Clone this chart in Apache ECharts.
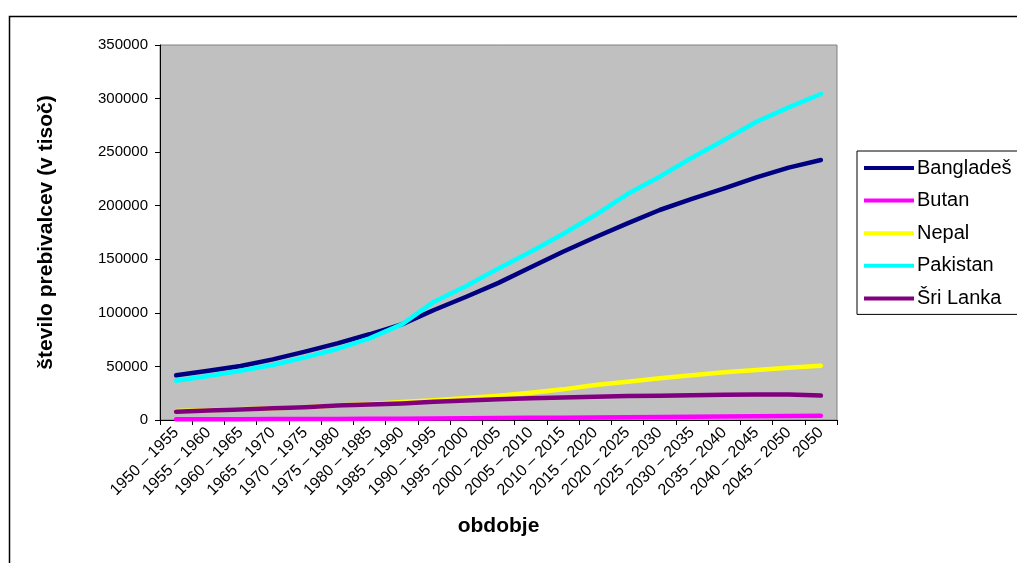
<!DOCTYPE html>
<html>
<head>
<meta charset="utf-8">
<script src="https://cdn.jsdelivr.net/npm/echarts@6/dist/echarts.min.js"></script>
<style>
  html, body { margin: 0; padding: 0; background: #fff; }
  #chart { width: 1017px; height: 563px; }
</style>
</head>
<body>
<div id="chart"></div>
<script>
// Periods on the category axis
const periods = [
  '1950 – 1955', '1955 – 1960', '1960 – 1965', '1965 – 1970', '1970 – 1975',
  '1975 – 1980', '1980 – 1985', '1985 – 1990', '1990 – 1995', '1995 – 2000',
  '2000 – 2005', '2005 – 2010', '2010 – 2015', '2015 – 2020', '2020 – 2025',
  '2025 – 2030', '2030 – 2035', '2035 – 2040', '2040 – 2045', '2045 – 2050',
  '2050'
];

// Population in thousands
const bangladesh = [41700, 46000, 50400, 56600, 63800, 71500, 80000, 89300, 102700, 115000,
  128000, 142500, 157000, 170500, 183500, 196000, 206300, 216200, 226500, 235500, 242700];
const butan = [700, 750, 800, 850, 900, 1000, 1100, 1200, 1400, 1600,
  1800, 2000, 2200, 2400, 2600, 2800, 3000, 3200, 3400, 3700, 3900];
const nepal = [8500, 9000, 10000, 11000, 12000, 13500, 15000, 16700, 18500, 20500,
  22700, 25500, 28600, 32700, 35800, 38900, 41700, 44500, 46700, 48800, 50700];
const pakistan = [36700, 41000, 46000, 51300, 58500, 66300, 76200, 89300, 110400, 125000,
  141500, 157100, 173600, 191300, 210900, 227100, 244800, 261300, 278400, 291800, 304300];
const sriLanka = [7800, 8800, 9800, 11000, 12000, 13500, 14500, 15500, 17000, 18200,
  19300, 20300, 21000, 21800, 22500, 22700, 23000, 23500, 23800, 23800, 22800];

// Y axis ticks
const yMin = 0, yMax = 350000, yStep = 50000;

const seriesDefs = [
  { name: 'Bangladeš', data: bangladesh, color: '#000080' },
  { name: 'Butan', data: butan, color: '#FF00FF' },
  { name: 'Nepal', data: nepal, color: '#FFFF00' },
  { name: 'Pakistan', data: pakistan, color: '#00FFFF' },
  { name: 'Šri Lanka', data: sriLanka, color: '#800080' }
];

const font = 'Liberation Sans, Arial, sans-serif';
const chart = echarts.init(document.getElementById('chart'), null, { renderer: 'canvas' });

chart.setOption({
  animation: false,
  backgroundColor: '#ffffff',
  textStyle: { fontFamily: font, color: '#000' },
  grid: {
    left: 160, right: 180, top: 45, bottom: 143,
    show: true, backgroundColor: '#C0C0C0', borderColor: '#808080', borderWidth: 1
  },
  legend: {
    orient: 'vertical',
    left: 857, top: 151,
    padding: [7, 60, 6, 7],
    itemGap: 12.6,
    itemWidth: 50, itemHeight: 4,
    icon: 'rect',
    borderColor: '#000', borderWidth: 1,
    backgroundColor: '#fff',
    textStyle: { fontFamily: font, fontSize: 20, color: '#000', lineHeight: 20, padding: [0, 0, 0, -2] },
    data: seriesDefs.map(s => s.name)
  },
  xAxis: {
    type: 'category',
    data: periods,
    boundaryGap: true,
    name: 'obdobje',
    nameLocation: 'middle',
    nameGap: 96,
    nameTextStyle: { fontFamily: font, fontSize: 21, fontWeight: 'bold', color: '#000' },
    axisLine: { lineStyle: { color: '#000', width: 1 } },
    axisTick: { show: true, length: 5, alignWithLabel: false, lineStyle: { color: '#000' } },
    axisLabel: {
      interval: 0, rotate: 45, fontFamily: font, fontSize: 16, color: '#000', margin: 10
    },
    splitLine: { show: false }
  },
  yAxis: {
    type: 'value',
    min: yMin, max: yMax, interval: yStep,
    name: 'število prebivalcev (v tisoč)',
    nameLocation: 'middle',
    nameRotate: 90,
    nameGap: 103,
    nameTextStyle: { fontFamily: font, fontSize: 21, fontWeight: 'bold', color: '#000' },
    axisLine: { show: true, lineStyle: { color: '#000', width: 1 } },
    axisTick: { show: true, length: 5, lineStyle: { color: '#000' } },
    axisLabel: {
      fontFamily: font, fontSize: 15, color: '#000', margin: 12,
      formatter: v => String(v)
    },
    splitLine: { show: false }
  },
  graphic: [{
    type: 'rect',
    left: 7, top: 14,
    shape: { width: 1100, height: 600 },
    style: { fill: 'none', stroke: '#000', lineWidth: 1.5 },
    silent: true,
    z: 100
  }],
  series: seriesDefs.map(s => ({
    name: s.name,
    type: 'line',
    data: s.data,
    showSymbol: false,
    symbol: 'none',
    smooth: false,
    itemStyle: { color: s.color },
    lineStyle: { color: s.color, width: 4.5, cap: 'round', join: 'round' }
  }))
});
</script>
</body>
</html>
